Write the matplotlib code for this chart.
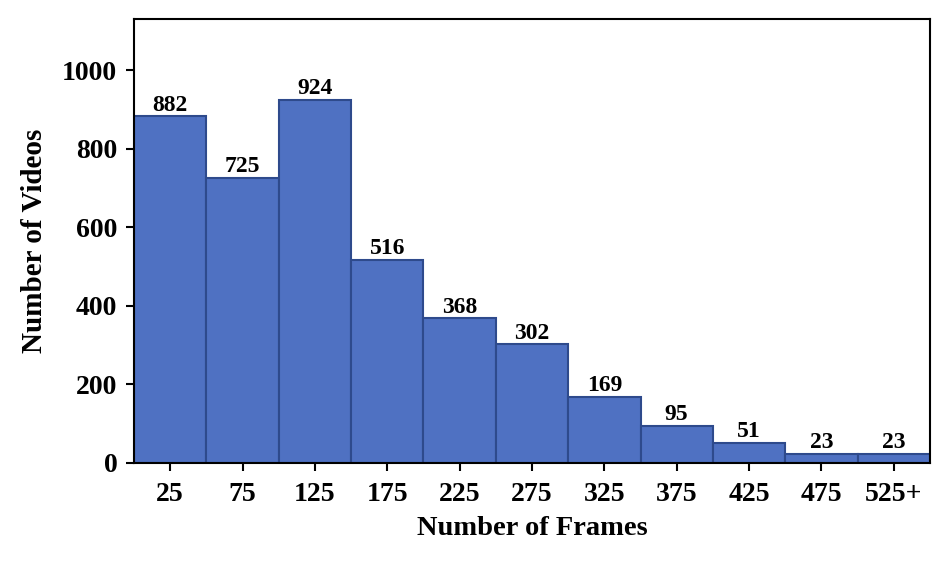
import matplotlib
matplotlib.use("Agg")
import matplotlib.pyplot as plt
import numpy as np

categories = ["25", "75", "125", "175", "225", "275", "325", "375", "425", "475", "525+"]
counts = [882, 725, 924, 516, 368, 302, 169, 95, 51, 23, 23]

plt.rcParams['font.family'] = ['Liberation Serif', 'DejaVu Serif']
plt.rcParams['font.weight'] = 'bold'

fig = plt.figure(figsize=(9.52, 5.66), dpi=100)
ax = fig.add_axes([0.1408, 0.182, 0.836, 0.7844])

x = np.arange(len(categories))
bars = ax.bar(x, counts, width=1.0, color='#4f71c2', edgecolor='#2e4a8c', linewidth=1.5)
for xi, c in zip(x, counts):
    ax.text(xi, c + 2, str(c), ha='center', va='bottom', fontsize=17, fontweight='bold')

ax.set_xlim(-0.5, len(categories) - 0.5)
ax.set_ylim(0, 1130)
ax.set_xticks(x)
ax.set_xticklabels(categories)
ax.set_yticks([0, 200, 400, 600, 800, 1000])
ax.tick_params(axis='both', labelsize=20, width=1.5, length=6)
ax.tick_params(axis='x', pad=8)
ax.tick_params(axis='y', pad=6)
for lab in ax.get_xticklabels() + ax.get_yticklabels():
    lab.set_fontweight('bold')
for s in ax.spines.values():
    s.set_linewidth(1.5)
ax.set_xlabel("Number of Frames", fontsize=20.5, fontweight='bold', labelpad=6)
ax.set_ylabel("Number of Videos", fontsize=21, fontweight='bold', labelpad=10)

fig.savefig("out.png", dpi=100)
